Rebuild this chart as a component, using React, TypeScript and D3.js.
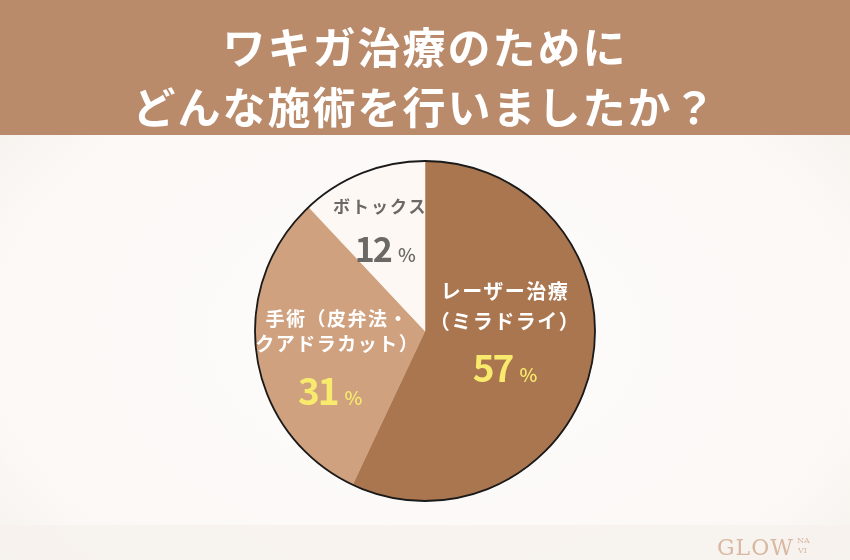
import React, { useEffect, useRef } from "react";
import * as d3 from "d3";

// survey answers, clockwise from 12 o'clock
const categories = ["レーザー治療（ミラドライ）", "手術（皮弁法・クアドラカット）", "ボトックス"];
const values = [57, 31, 12];
const labelLines = [
    ["レーザー治療", "（ミラドライ）"],
    ["手術（皮弁法・", "クアドラカット）"],
    ["ボトックス"],
];
const titleLines = ["ワキガ治療のために", "どんな施術を行いましたか？"];

const COLORS = ["#aa764f", "#cfa17f", "#fdf8f3"];
const NAME_COLORS = ["#ffffff", "#ffffff", "#6b6866"];
const PCT_COLORS = ["#f8ea6c", "#f8ea6c", "#6b6866"];

const W = 850;
const H = 560;
const JP = "'Noto Sans CJK JP', 'Noto Sans', sans-serif";

// label layout per slice: radius of the anchor, then line offsets from it
const LABEL_R = [82, 96, 108];
const NAME_DX = [0, 7, -5];
const NAME_DY = [[-50, -20], [-20, 5], [-18]];
const PCT_DY = [33, 59, 31];

const App: React.FC = () => {
    const svgRef = useRef<SVGSVGElement | null>(null);

    useEffect(() => {
        if (!svgRef.current) return;
        const svg = d3.select(svgRef.current);
        svg.selectAll("*").remove();

        // background
        const defs = svg.append("defs");
        const bg = defs.append("radialGradient").attr("id", "bg").attr("cx", "50%").attr("cy", "60%").attr("r", "75%");
        bg.append("stop").attr("offset", "0%").attr("stop-color", "#fefdfc");
        bg.append("stop").attr("offset", "70%").attr("stop-color", "#fbf8f5");
        bg.append("stop").attr("offset", "100%").attr("stop-color", "#f1ebe6");
        svg.append("rect").attr("width", W).attr("height", H).attr("fill", "url(#bg)");
        svg.append("rect").attr("y", 525).attr("width", W).attr("height", 35).attr("fill", "#f6f1ec").attr("opacity", 0.8);

        // title band
        svg.append("rect").attr("width", W).attr("height", 135).attr("fill", "#b98b6b");
        svg.selectAll("text.title")
            .data(titleLines)
            .join("text")
            .attr("class", "title")
            .attr("x", W / 2)
            .attr("y", (_, i) => 64 + i * 60)
            .attr("text-anchor", "middle")
            .attr("fill", "#ffffff")
            .style("font-family", JP)
            .style("font-weight", 700)
            .style("font-size", "43px")
            .style("letter-spacing", "2px")
            .text(d => d);

        // pie
        const cx = 425;
        const cy = 331;
        const radius = 170;
        const g = svg.append("g").attr("transform", `translate(${cx},${cy})`);

        const pie = d3.pie<number>().sort(null).value(d => d);
        const arcs = pie(values);
        const arc = d3.arc<d3.PieArcDatum<number>>().innerRadius(0).outerRadius(radius);

        g.selectAll("path.slice")
            .data(arcs)
            .join("path")
            .attr("class", "slice")
            .attr("d", arc)
            .attr("fill", (_, i) => COLORS[i])
            .attr("stroke", (_, i) => COLORS[i])
            .attr("stroke-width", 0.5);

        g.append("circle").attr("r", radius).attr("fill", "none").attr("stroke", "#1a1a1a").attr("stroke-width", 1.8);

        // labels
        arcs.forEach((a, i) => {
            const [lx, ly] = d3.arc<d3.PieArcDatum<number>>().innerRadius(LABEL_R[i]).outerRadius(LABEL_R[i]).centroid(a);
            labelLines[i].forEach((line, j) => {
                g.append("text")
                    .attr("x", lx + NAME_DX[i])
                    .attr("y", ly + NAME_DY[i][j])
                    .attr("text-anchor", "middle")
                    .attr("fill", NAME_COLORS[i])
                    .style("font-family", JP)
                    .style("font-weight", 700)
                    .style("font-size", i === 2 ? "17px" : i === 0 ? "20px" : "19px")
                    .style("letter-spacing", i === 2 ? "2px" : "1.5px")
                    .text(line);
            });
            const t = g.append("text")
                .attr("x", lx)
                .attr("y", ly + PCT_DY[i])
                .attr("text-anchor", "middle")
                .attr("fill", PCT_COLORS[i])
                .style("font-family", JP)
                .style("font-weight", 700);
            t.append("tspan").style("font-size", i === 2 ? "34px" : "37px").style("letter-spacing", "-2px").text(values[i]);
            t.append("tspan").attr("dx", 7).style("font-size", "19px").style("font-weight", 500).text("%");
        });

        // logo
        const logo = svg.append("g").attr("fill", "#d8b8a2").style("font-family", "'DejaVu Serif', serif");
        logo.append("text").attr("x", 717).attr("y", 555).style("font-size", "22px").style("letter-spacing", "1px").text("GLOW");
        logo.append("text").attr("x", 797).attr("y", 543).style("font-size", "8px").text("NA");
        logo.append("text").attr("x", 798).attr("y", 553).style("font-size", "8px").text("VI");
    }, []);

    return (
        <div style={{ position: "fixed", left: 0, top: 0, width: W, height: H }}>
            <svg ref={svgRef} width={W} height={H} aria-label={categories.join(" / ")} />
        </div>
    );
};

export default App;
